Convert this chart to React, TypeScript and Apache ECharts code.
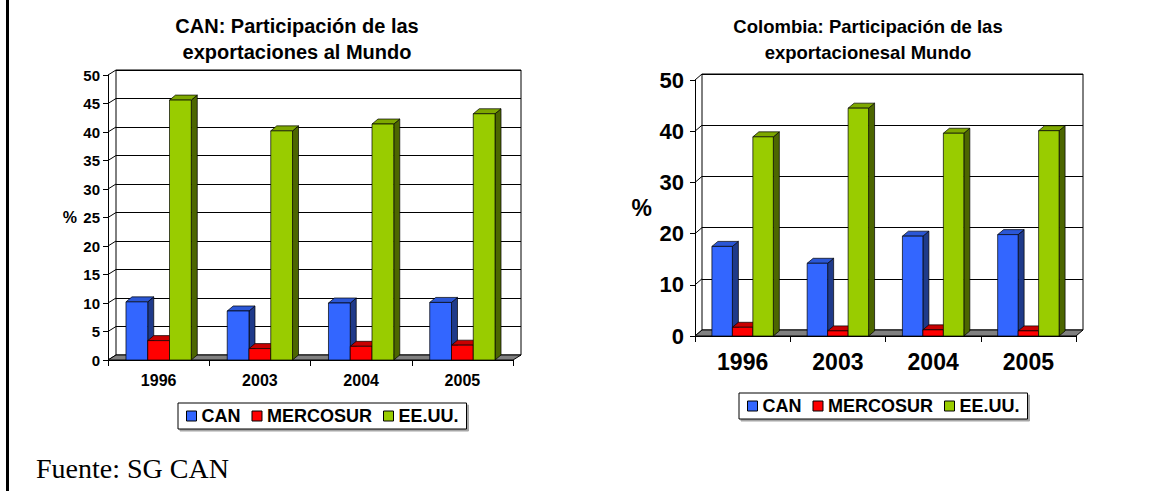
import React, { useEffect, useRef } from "react";
import * as echarts from "echarts";

const categories = ["1996", "2003", "2004", "2005"];
const seriesNames = ["CAN", "MERCOSUR", "EE.UU."];

// Left chart: CAN
const canToCAN = [10.2, 8.6, 10.0, 10.1];
const canToMERCOSUR = [3.4, 2.0, 2.4, 2.6];
const canToEEUU = [45.6, 40.2, 41.4, 43.2];

// Right chart: Colombia
const colToCAN = [17.5, 14.2, 19.5, 19.8];
const colToMERCOSUR = [1.7, 1.0, 1.2, 1.0];
const colToEEUU = [38.9, 44.5, 39.6, 40.1];

const leftTicks = [0, 5, 10, 15, 20, 25, 30, 35, 40, 45, 50];
const rightTicks = [0, 10, 20, 30, 40, 50];

const leftTitle = ["CAN: Participación de las", "exportaciones al Mundo"];
const rightTitle = ["Colombia: Participación de las", "exportacionesal Mundo"];
const sourceText = "Fuente: SG CAN";

const FONT = "'Liberation Sans', Arial, sans-serif";

const palette = [
  { front: "#3366FF", top: "#2B57D6", side: "#1F3A8A" },
  { front: "#FF0000", top: "#C80000", side: "#800000" },
  { front: "#99CC00", top: "#7EA800", side: "#4C6600" },
];

function barRender(k: number, dx: number, dy: number) {
  const c = palette[k];
  return (params: any, api: any) => {
    const i = api.value(0);
    const v = api.value(1);
    const p0 = api.coord([i, 0]);
    const p1 = api.coord([i, v]);
    const band = api.size([1, 0])[0];
    const w = band * 0.215;
    const x = p0[0] - 1.5 * w + k * w;
    const y0 = p0[1];
    const y1 = p1[1];
    const st = { stroke: "#000", lineWidth: 0.7 };
    return {
      type: "group",
      children: [
        {
          type: "polygon",
          shape: { points: [[x + w, y1], [x + w + dx, y1 - dy], [x + w + dx, y0 - dy], [x + w, y0]] },
          style: { fill: c.side, ...st },
        },
        {
          type: "polygon",
          shape: { points: [[x, y1], [x + w, y1], [x + w + dx, y1 - dy], [x + dx, y1 - dy]] },
          style: { fill: c.top, ...st },
        },
        {
          type: "rect",
          shape: { x, y: y1, width: w, height: y0 - y1 },
          style: { fill: c.front, ...st },
        },
      ],
    };
  };
}

function wallRender(dx: number, dy: number) {
  return (params: any, api: any) => {
    const cs = params.coordSys;
    const v = api.value(1);
    const y = api.coord([0, v])[1];
    const children: any[] = [
      {
        type: "line",
        shape: { x1: cs.x, y1: y, x2: cs.x + dx, y2: y - dy },
        style: { stroke: "#000", lineWidth: 1 },
      },
    ];
    if (v === 0) {
      children.push({
        type: "polygon",
        shape: {
          points: [
            [cs.x, y],
            [cs.x + cs.width, y],
            [cs.x + cs.width + dx, y - dy],
            [cs.x + dx, y - dy],
          ],
        },
        style: { fill: "#808080", stroke: "#000", lineWidth: 1 },
      });
    }
    return { type: "group", children };
  };
}

interface ChartCfg {
  front: { left: number; top: number; width: number; height: number };
  dx: number;
  dy: number;
  bdx: number;
  bdy: number;
  interval: number;
  ticks: number[];
  yFont: number;
  xFont: number;
  xMargin: number;
  yMargin: number;
  nameFont: number;
  nameGap: number;
  values: number[][];
  gridBase: number;
}

function buildChart(cfg: ChartCfg) {
  const g = cfg.gridBase;
  const grids = [
    { ...cfg.front, containLabel: false },
    {
      left: cfg.front.left + cfg.dx,
      top: cfg.front.top - cfg.dy,
      width: cfg.front.width,
      height: cfg.front.height,
      show: true,
      backgroundColor: "#fff",
      borderColor: "#000",
      borderWidth: 1,
      z: -1,
    },
  ];
  const xAxes = [
    {
      gridIndex: g,
      type: "category",
      data: categories,
      axisLine: { show: true, lineStyle: { color: "#000", width: 1 } },
      axisTick: { show: true, length: 6, interval: 0, lineStyle: { color: "#000" } },
      axisLabel: {
        color: "#000",
        fontWeight: "bold",
        fontSize: cfg.xFont,
        fontFamily: FONT,
        margin: cfg.xMargin,
      },
      splitLine: { show: false },
    },
    { gridIndex: g + 1, type: "value", min: 0, max: 1, show: false },
  ];
  const yAxes = [
    {
      gridIndex: g,
      type: "value",
      min: 0,
      max: 50,
      interval: cfg.interval,
      name: "%",
      nameLocation: "middle",
      nameRotate: 0,
      nameGap: cfg.nameGap,
      nameTextStyle: { color: "#000", fontWeight: "bold", fontSize: cfg.nameFont, fontFamily: FONT },
      axisLine: { show: true, lineStyle: { color: "#000", width: 1 } },
      axisTick: { show: true, length: 5, lineStyle: { color: "#000" } },
      axisLabel: {
        color: "#000",
        fontWeight: "bold",
        fontSize: cfg.yFont,
        fontFamily: FONT,
        margin: cfg.yMargin,
      },
      splitLine: { show: false },
    },
    {
      gridIndex: g + 1,
      type: "value",
      min: 0,
      max: 50,
      interval: cfg.interval,
      axisLine: { show: false },
      axisTick: { show: false },
      axisLabel: { show: false },
      splitLine: { show: true, lineStyle: { color: "#000", width: 1 } },
    },
  ];
  const series: any[] = [
    {
      type: "custom",
      name: "walls",
      xAxisIndex: g,
      yAxisIndex: g,
      z: 1,
      silent: true,
      renderItem: wallRender(cfg.dx, cfg.dy),
      encode: { x: 0, y: 1 },
      data: cfg.ticks.map((t) => [0, t]),
    },
  ];
  seriesNames.forEach((name, k) => {
    series.push({
      type: "custom",
      name,
      xAxisIndex: g,
      yAxisIndex: g,
      z: 3,
      itemStyle: { color: palette[k].front },
      renderItem: barRender(k, cfg.bdx, cfg.bdy),
      encode: { x: 0, y: 1 },
      data: cfg.values[k].map((v, i) => [i, v]),
    });
  });
  return { grids, xAxes, yAxes, series };
}

const legendBase = {
  data: seriesNames,
  orient: "horizontal",
  icon: "rect",
  itemWidth: 10,
  itemHeight: 10,
  itemGap: 11,
  padding: [4, 8],
  borderColor: "#000",
  borderWidth: 1,
  backgroundColor: "#fff",
  shadowColor: "rgba(0,0,0,0.35)",
  shadowOffsetX: 2,
  shadowOffsetY: 2,
  shadowBlur: 0,
  selectedMode: false,
  itemStyle: { borderColor: "#000", borderWidth: 1 },
  textStyle: { color: "#000", fontWeight: "bold", fontSize: 18, fontFamily: FONT },
};

export default function App() {
  const ref = useRef<HTMLDivElement>(null);
  useEffect(() => {
    if (!ref.current) return;
    const chart = echarts.init(ref.current, null, { renderer: "svg" });

    const left = buildChart({
      front: { left: 108, top: 75, width: 405, height: 285 },
      dx: 8,
      dy: 5,
      bdx: 6,
      bdy: 5,
      interval: 5,
      ticks: leftTicks,
      yFont: 15,
      xFont: 16,
      xMargin: 12,
      yMargin: 8,
      nameFont: 16,
      nameGap: 31,
      values: [canToCAN, canToMERCOSUR, canToEEUU],
      gridBase: 0,
    });
    const right = buildChart({
      front: { left: 695, top: 80, width: 381, height: 256 },
      dx: 7,
      dy: 6,
      bdx: 6,
      bdy: 5,
      interval: 10,
      ticks: rightTicks,
      yFont: 22,
      xFont: 23,
      xMargin: 14,
      yMargin: 11,
      nameFont: 23,
      nameGap: 43,
      values: [colToCAN, colToMERCOSUR, colToEEUU],
      gridBase: 2,
    });

    const titleStyle = (x: number, lines: string[], size: number, lh: number) => ({
      type: "text",
      x,
      y: 13,
      style: {
        text: lines.join("\n"),
        fill: "#000",
        fontWeight: "bold",
        fontSize: size,
        fontFamily: FONT,
        lineHeight: lh,
        align: "center",
        verticalAlign: "top",
      },
    });

    chart.setOption({
      animation: false,
      backgroundColor: "#fff",
      grid: [...left.grids, ...right.grids],
      xAxis: [...left.xAxes, ...right.xAxes],
      yAxis: [...left.yAxes, ...right.yAxes],
      series: [...left.series, ...right.series],
      legend: [
        { ...legendBase, left: 178, top: 403 },
        { ...legendBase, left: 739, top: 393 },
      ],
      graphic: [
        { type: "rect", shape: { x: 6, y: 0, width: 3, height: 491 }, style: { fill: "#000" } },
        titleStyle(297, leftTitle, 20, 26),
        titleStyle(868, rightTitle, 18.5, 26),
        {
          type: "text",
          x: 36,
          y: 468,
          style: {
            text: sourceText,
            fill: "#000",
            fontSize: 28,
            fontFamily: "'Liberation Serif', 'DejaVu Serif', serif",
            verticalAlign: "middle",
          },
        },
      ],
    });
    return () => chart.dispose();
  }, []);
  return (
    <div
      ref={ref}
      style={{ position: "absolute", left: 0, top: 0, width: 1149, height: 491, background: "#fff" }}
    />
  );
}
